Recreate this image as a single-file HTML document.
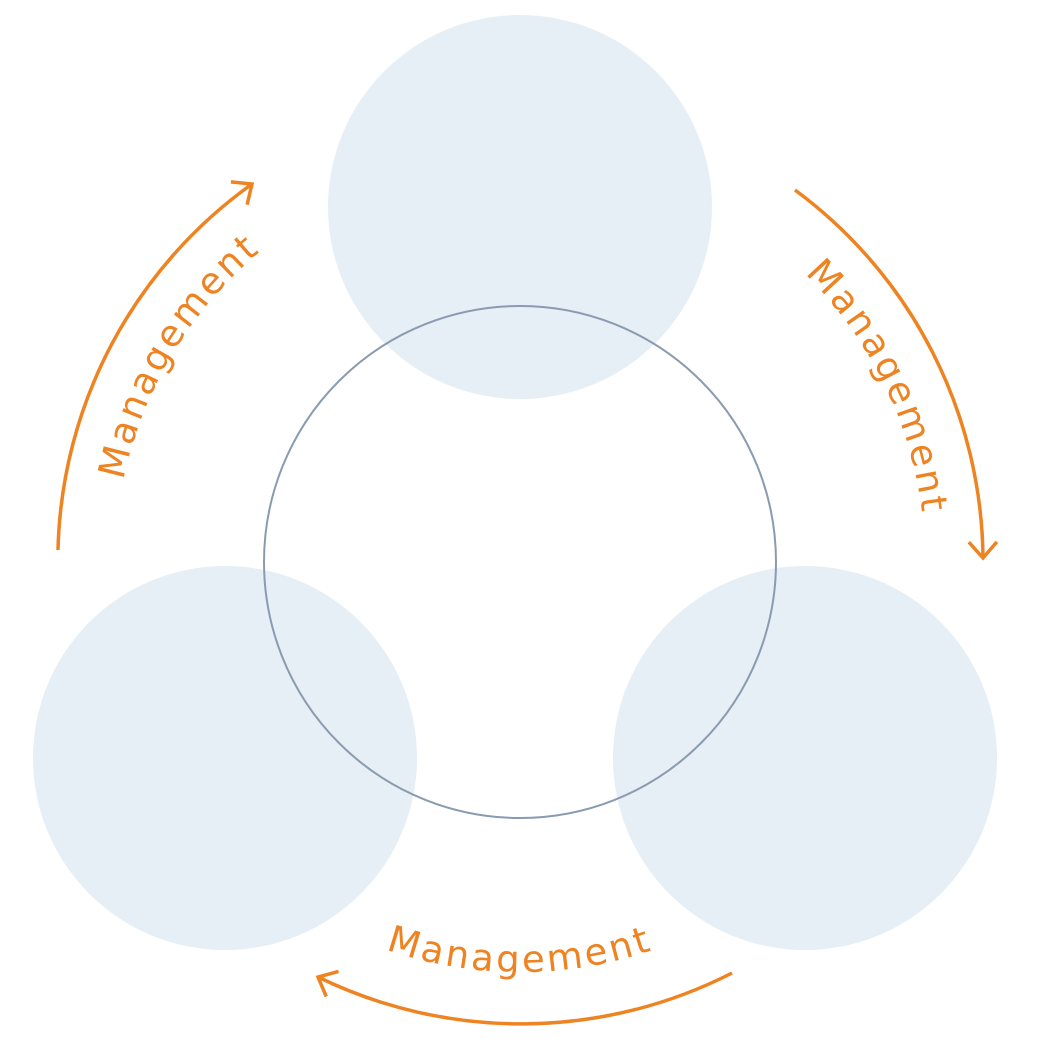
<!DOCTYPE html>
<html><head><meta charset="utf-8"><style>
html,body{margin:0;padding:0;background:#fff;}
svg{display:block;}
</style></head><body>
<svg width="1043" height="1042" viewBox="0 0 1043 1042" xmlns="http://www.w3.org/2000/svg">
<defs>
<marker id="ah" markerUnits="userSpaceOnUse" markerWidth="40" markerHeight="40" refX="0" refY="0" viewBox="-20 -20 40 40" orient="auto" overflow="visible">
<path d="M-16,-14 L0,0 L-16,14" fill="none" stroke="#ee8322" stroke-width="3.5"/>
</marker>
<path id="tl" d="M165.8,758.3 A405,405 0 0 1 527.1,157.1"/>
<path id="tr" d="M548.3,157.9 A405,405 0 0 1 855.7,788.5"/>
<path id="tb" d="M164.9,767 A410,410 0 0 0 875.1,767"/>
</defs>
<circle cx="520" cy="207" r="192" fill="#e6eef6"/>
<circle cx="225" cy="758" r="192" fill="#e6eef6"/>
<circle cx="805" cy="758" r="192" fill="#e6eef6"/>
<circle cx="520" cy="562" r="256" fill="none" stroke="#8a9bb0" stroke-width="2"/>
<g fill="none" stroke="#ee8322" stroke-width="3.5" marker-end="url(#ah)">
<path d="M58,550 A463,463 0 0 1 252,184"/>
<path d="M795,190 A463,463 0 0 1 983,558"/>
<path d="M732,973 A463,463 0 0 1 318,977"/>
</g>
<g font-family="DejaVu Sans, sans-serif" font-size="37" fill="#ee8322" letter-spacing="3" text-anchor="middle">
<text><textPath href="#tl" startOffset="50%">Management</textPath></text>
<text><textPath href="#tr" startOffset="50%">Management</textPath></text>
<text><textPath href="#tb" startOffset="50%">Management</textPath></text>
</g>
</svg>
</body></html>
